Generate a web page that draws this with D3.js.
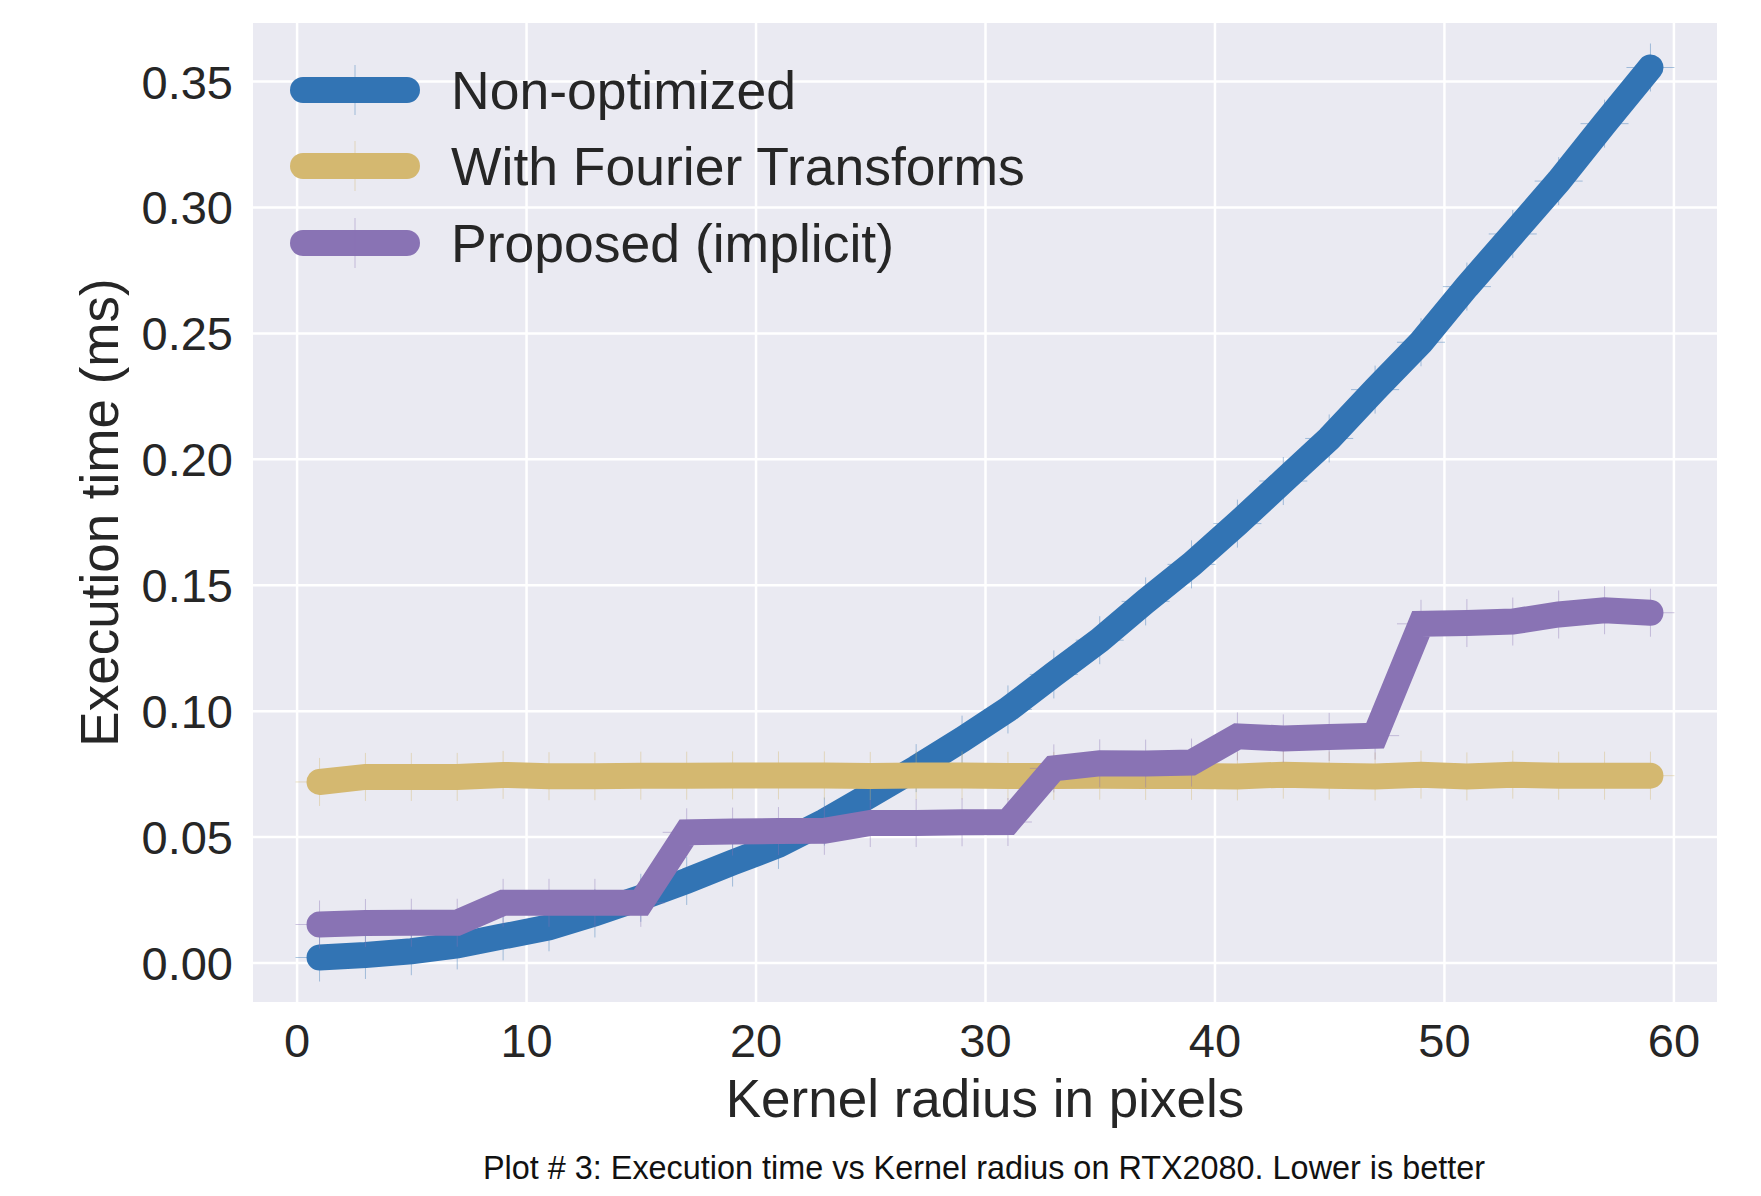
<!DOCTYPE html>
<html>
<meta charset="utf-8" />
<script src="https://cdn.jsdelivr.net/npm/d3@7/dist/d3.min.js"></script>
<style>
  html, body { margin: 0; padding: 0; background: #fff; }
  svg { display: block; font-family: 'Liberation Sans', Arial, sans-serif; }
  .tick-label { fill: #262626; font-size: 47px; }
  .axis-title { fill: #262626; font-size: 53px; }
  .legend text { fill: #262626; font-size: 53.5px; }
  .caption { fill: #111; font-size: 34px; font-family: 'Liberation Sans Narrow', 'Liberation Sans', sans-serif; }
</style>
<body>
<div id="chart"></div>
<script>
  // kernel radius (x)
  var radius = [1, 3, 5, 7, 9, 11, 13, 15, 17, 19, 21, 23, 25, 27, 29,
    31, 33, 35, 37, 39, 41, 43, 45, 47, 49, 51, 53, 55, 57, 59];

  var nonOptimized = [0.0020, 0.0030, 0.0045, 0.0068, 0.0104, 0.0140, 0.0195, 0.0257, 0.0324, 0.0397,
    0.0467, 0.0560, 0.0665, 0.0772, 0.0885, 0.1005, 0.1144, 0.1280, 0.1434, 0.1581,
    0.1743, 0.1912, 0.2081, 0.2275, 0.2463, 0.2684, 0.2893, 0.3103, 0.3331, 0.3554];

  var withFourier = [0.0717, 0.0737, 0.0737, 0.0737, 0.0745, 0.0740, 0.0740, 0.0742, 0.0742, 0.0743,
    0.0743, 0.0743, 0.0741, 0.0743, 0.0743, 0.0741, 0.0741, 0.0742, 0.0741, 0.0741,
    0.0739, 0.0746, 0.0742, 0.0739, 0.0746, 0.0739, 0.0746, 0.0742, 0.0742, 0.0742];

  var proposed = [0.0151, 0.0157, 0.0158, 0.0158, 0.0237, 0.0237, 0.0237, 0.0237, 0.0517, 0.0520,
    0.0522, 0.0523, 0.0554, 0.0554, 0.0557, 0.0558, 0.0771, 0.0791, 0.0790, 0.0794,
    0.0898, 0.0890, 0.0896, 0.0901, 0.1345, 0.1348, 0.1354, 0.1382, 0.1399, 0.1389];

  var seriesNames = ['Non-optimized', 'With Fourier Transforms', 'Proposed (implicit)'];
  var seriesColors = ['#3274b4', '#d4b870', '#8973b4'];
  var xTicks = [0, 10, 20, 30, 40, 50, 60];
  var yTicks = [0, 0.05, 0.1, 0.15, 0.2, 0.25, 0.3, 0.35];

  var W = 1761, H = 1196;
  var plot = { left: 253, top: 23, right: 1717, bottom: 1002 };

  var series = [nonOptimized, withFourier, proposed].map(function (vals, i) {
    return {
      name: seriesNames[i],
      color: seriesColors[i],
      values: vals.map(function (v, j) { return { x: radius[j], y: v }; })
    };
  });

  // matplotlib style 5% margins
  var xExt = d3.extent(radius);
  var allY = [].concat(nonOptimized, withFourier, proposed);
  var yExt = d3.extent(allY);
  var xPad = (xExt[1] - xExt[0]) * 0.05, yPad = (yExt[1] - yExt[0]) * 0.05;

  var x = d3.scaleLinear().domain([xExt[0] - xPad, xExt[1] + xPad]).range([plot.left, plot.right]);
  var y = d3.scaleLinear().domain([yExt[0] - yPad, yExt[1] + yPad]).range([plot.bottom, plot.top]);

  var svg = d3.select('#chart').append('svg')
    .attr('width', W).attr('height', H)
    .attr('viewBox', '0 0 ' + W + ' ' + H);

  svg.append('rect').attr('width', W).attr('height', H).attr('fill', '#fff');

  svg.append('rect')
    .attr('x', plot.left).attr('y', plot.top)
    .attr('width', plot.right - plot.left).attr('height', plot.bottom - plot.top)
    .attr('fill', '#eaeaf2');

  // grid
  var yAxis = svg.append('g').attr('class', 'y-axis')
    .attr('transform', 'translate(' + plot.left + ',0)')
    .call(d3.axisLeft(y).tickValues(yTicks).tickSize(-(plot.right - plot.left)).tickPadding(20)
      .tickFormat(d3.format('.2f')));
  yAxis.select('.domain').remove();
  yAxis.selectAll('.tick line').attr('stroke', '#fff').attr('stroke-width', 2.5);
  yAxis.selectAll('.tick text').attr('class', 'tick-label').attr('font-size', null)
    .attr('font-family', null).attr('fill', null).attr('dy', '0.36em');

  var xAxis = svg.append('g').attr('class', 'x-axis')
    .attr('transform', 'translate(0,' + plot.bottom + ')')
    .call(d3.axisBottom(x).tickValues(xTicks).tickSize(-(plot.bottom - plot.top)).tickPadding(22));
  xAxis.select('.domain').remove();
  xAxis.selectAll('.tick line').attr('stroke', '#fff').attr('stroke-width', 2.5);
  xAxis.selectAll('.tick text').attr('class', 'tick-label').attr('font-size', null)
    .attr('font-family', null).attr('fill', null).attr('dy', '0.71em');
  svg.selectAll('.x-axis, .y-axis').attr('font-size', null).attr('font-family', null);

  svg.append('clipPath').attr('id', 'clip').append('rect')
    .attr('x', plot.left).attr('y', plot.top)
    .attr('width', plot.right - plot.left).attr('height', plot.bottom - plot.top);

  var line = d3.line().x(function (d) { return x(d.x); }).y(function (d) { return y(d.y); });
  var arm = 24;

  var g = svg.append('g').attr('clip-path', 'url(#clip)');
  series.forEach(function (s) {
    var sg = g.append('g');
    // faint + markers at each point
    var m = sg.selectAll('g.mk').data(s.values).enter().append('g')
      .attr('transform', function (d) { return 'translate(' + x(d.x) + ',' + y(d.y) + ')'; })
      .attr('stroke', s.color).attr('stroke-width', 1).attr('opacity', 0.4);
    m.append('line').attr('x1', -arm).attr('x2', arm);
    m.append('line').attr('y1', -arm).attr('y2', arm);

    sg.append('path').datum(s.values)
      .attr('d', line)
      .attr('fill', 'none')
      .attr('stroke', s.color)
      .attr('stroke-width', 26)
      .attr('stroke-linecap', 'round')
      .attr('stroke-linejoin', 'miter');
  });

  // legend
  var legend = svg.append('g').attr('class', 'legend');
  var legendY = [90, 166, 243];
  series.forEach(function (s, i) {
    var lg = legend.append('g').attr('transform', 'translate(0,' + legendY[i] + ')');
    lg.append('line').attr('x1', 303).attr('x2', 407)
      .attr('stroke', s.color).attr('stroke-width', 26).attr('stroke-linecap', 'round');
    lg.append('line').attr('x1', 355).attr('x2', 355).attr('y1', -25).attr('y2', 25)
      .attr('stroke', s.color).attr('stroke-width', 1).attr('opacity', 0.4);
    lg.append('text').attr('x', 451).attr('dy', '0.36em').text(s.name);
  });

  // axis titles
  svg.append('text').attr('class', 'axis-title')
    .attr('x', (plot.left + plot.right) / 2).attr('y', 1117)
    .attr('text-anchor', 'middle').text('Kernel radius in pixels');

  svg.append('text').attr('class', 'axis-title')
    .attr('transform', 'translate(118,' + (plot.top + plot.bottom) / 2 + ') rotate(-90)')
    .attr('text-anchor', 'middle').text('Execution time (ms)');

  svg.append('text').attr('class', 'caption')
    .attr('x', 483).attr('y', 1179)
    .attr('textLength', 1002).attr('lengthAdjust', 'spacingAndGlyphs')
    .text('Plot # 3: Execution time vs Kernel radius on RTX2080. Lower is better');
</script>
</body>
</html>
